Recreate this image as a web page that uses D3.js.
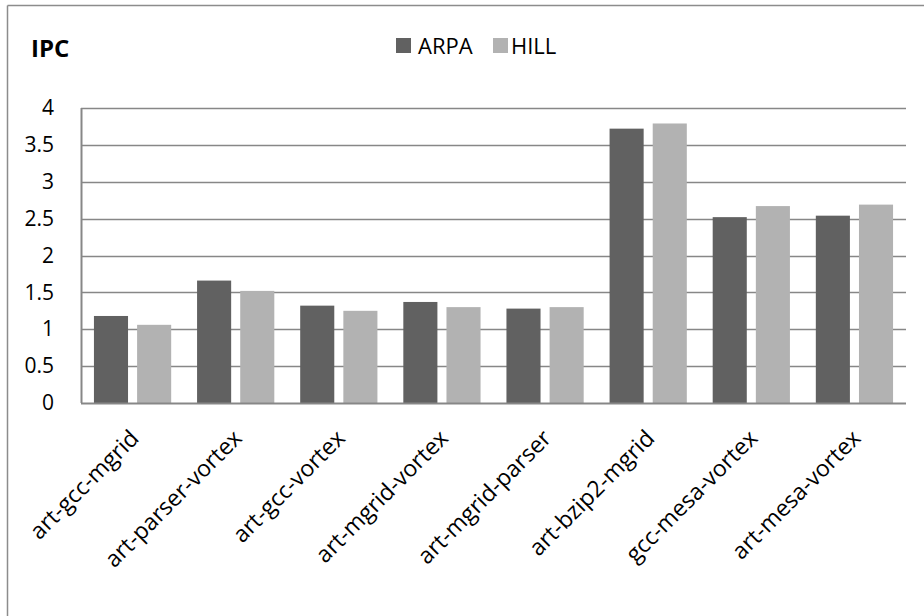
<!DOCTYPE html>
<html>
<head>
<meta charset="utf-8">
<script src="https://cdn.jsdelivr.net/npm/d3@7"></script>
<style>
  html, body { margin: 0; padding: 0; background: #fff; }
  svg { display: block; font-family: "Open Sans", Lato, sans-serif; }
</style>
</head>
<body>
<svg id="chart" width="924" height="616"></svg>
<script>
// Workload pairs and instructions-per-cycle for each scheme
const categories = [
  "art-gcc-mgrid", "art-parser-vortex", "art-gcc-vortex", "art-mgrid-vortex",
  "art-mgrid-parser", "art-bzip2-mgrid", "gcc-mesa-vortex", "art-mesa-vortex"
];
const seriesNames = ["ARPA", "HILL"];
const arpaValues = [1.18, 1.66, 1.32, 1.37, 1.28, 3.72, 2.52, 2.54];
const hillValues = [1.06, 1.52, 1.25, 1.30, 1.30, 3.79, 2.67, 2.69];
const yTicks = [0, 0.5, 1, 1.5, 2, 2.5, 3, 3.5, 4];
const seriesColors = ["#616161", "#b2b2b2"];

const svg = d3.select("#chart");
const W = 924, H = 616;
const plot = { left: 81, right: 906, top: 108, bottom: 403 };
const FONT = "'Open Sans', Lato, sans-serif";

// Outer chart frame (top and left edges visible)
svg.append("line").attr("x1", 7.5).attr("x2", W).attr("y1", 5.5).attr("y2", 5.5)
  .attr("stroke", "#8c8c8c").attr("stroke-width", 1.5);
svg.append("line").attr("x1", 7.5).attr("x2", 7.5).attr("y1", 5.5).attr("y2", H)
  .attr("stroke", "#8c8c8c").attr("stroke-width", 1.5);

const x = d3.scaleBand().domain(categories).range([plot.left, plot.right]).padding(0);
const y = d3.scaleLinear().domain([0, 4]).range([plot.bottom, plot.top]);
const xInner = d3.scaleBand().domain(seriesNames).range([0, x.bandwidth()])
  .paddingInner(0.21).paddingOuter(0.30);

// Horizontal gridlines
svg.append("g")
  .selectAll("line").data(yTicks.filter(t => t > 0)).join("line")
  .attr("x1", plot.left).attr("x2", plot.right)
  .attr("y1", d => Math.round(y(d)) + 0.5).attr("y2", d => Math.round(y(d)) + 0.5)
  .attr("stroke", "#878787").attr("stroke-width", 1.7);

// Bars
const rows = categories.map((c, i) => ({ c, vals: [arpaValues[i], hillValues[i]] }));
svg.append("g").selectAll("g").data(rows).join("g")
  .attr("transform", d => `translate(${x(d.c)},0)`)
  .selectAll("rect").data(d => d.vals.map((v, j) => ({ v, s: seriesNames[j], j })))
  .join("rect")
  .attr("x", d => xInner(d.s))
  .attr("width", xInner.bandwidth())
  .attr("y", d => y(d.v))
  .attr("height", d => y(0) - y(d.v))
  .attr("fill", d => seriesColors[d.j]);

// Axis lines
svg.append("line").attr("x1", plot.left).attr("x2", plot.right)
  .attr("y1", plot.bottom + 0.5).attr("y2", plot.bottom + 0.5)
  .attr("stroke", "#878787").attr("stroke-width", 2);
svg.append("line").attr("x1", plot.left + 0.5).attr("x2", plot.left + 0.5)
  .attr("y1", plot.top).attr("y2", plot.bottom)
  .attr("stroke", "#878787").attr("stroke-width", 2);

// Y axis labels
const yAxis = d3.axisLeft(y).tickValues(yTicks).tickSize(0).tickPadding(27)
  .tickFormat(d => String(d));
const yg = svg.append("g").attr("transform", `translate(${plot.left},0)`).call(yAxis);
yg.select(".domain").remove();
yg.selectAll("text").attr("font-size", 21).attr("fill", "#000")
  .attr("font-family", FONT);

// X axis labels, rotated
const xAxis = d3.axisBottom(x).tickSize(0).tickPadding(0);
const xg = svg.append("g").attr("transform", `translate(0,${plot.bottom})`).call(xAxis);
xg.select(".domain").remove();
xg.selectAll("text")
  .attr("font-size", 23).attr("fill", "#000")
  .attr("font-family", FONT)
  .attr("text-anchor", "end")
  .attr("dy", "0.35em")
  .attr("transform", "translate(2,31) rotate(-45)");

// Axis title
svg.append("text").attr("x", 31).attr("y", 57).text("IPC")
  .attr("font-size", 24).attr("font-weight", "bold").attr("fill", "#000")
  .attr("font-family", FONT);

// Legend
const legend = svg.append("g").attr("transform", "translate(396,38)");
const legendOffsets = [0, 97];
seriesNames.forEach((s, i) => {
  const g = legend.append("g").attr("transform", `translate(${legendOffsets[i]},0)`);
  g.append("rect").attr("width", 15).attr("height", 15).attr("fill", seriesColors[i]);
  g.append("text").attr("x", i === 0 ? 22 : 18).attr("y", 15.5).text(s)
    .attr("font-size", 22).attr("fill", "#000").attr("font-family", FONT);
});
</script>
</body>
</html>
